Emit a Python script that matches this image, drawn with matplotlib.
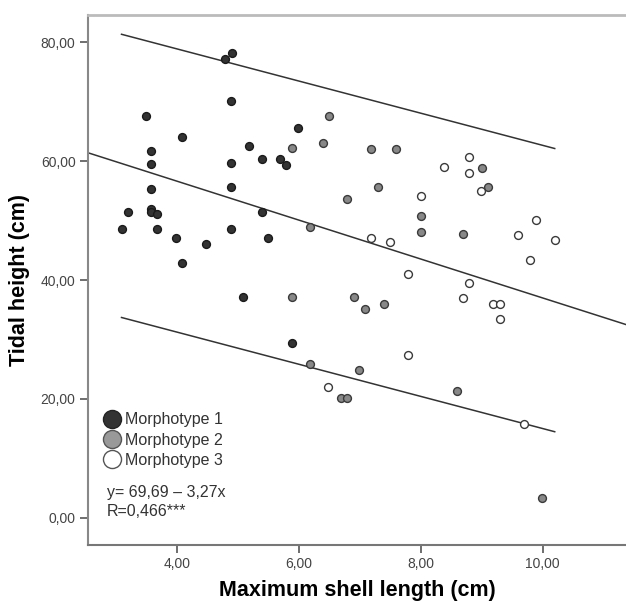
import matplotlib
matplotlib.use("Agg")
import matplotlib.pyplot as plt
from matplotlib.lines import Line2D
from matplotlib.ticker import FuncFormatter

plt.rcParams['font.family'] = ['Liberation Sans', 'DejaVu Sans']

# Morphotype 1 (dark)
m1_x = [4.90, 4.79, 4.89, 3.49, 4.09, 5.99, 5.19, 3.58, 3.58, 4.89, 5.39, 5.69, 5.79,
        3.58, 4.89, 3.19, 3.58, 3.58, 3.68, 5.39, 3.09, 3.68, 4.89, 3.99, 5.49, 4.48,
        4.09, 5.09, 5.89]
m1_y = [78.2, 77.1, 70.1, 67.6, 64.0, 65.5, 62.5, 61.7, 59.5, 59.7, 60.4, 60.3, 59.3,
        55.3, 55.6, 51.5, 51.9, 51.5, 51.1, 51.5, 48.6, 48.6, 48.6, 47.0, 47.0, 46.0,
        42.8, 37.1, 29.4]

# Morphotype 2 (grey)
m2_x = [6.49, 6.39, 5.89, 6.79, 6.19, 5.89, 6.90, 7.09, 6.19, 6.99, 6.69, 6.79,
        7.19, 7.60, 9.00, 9.10, 7.30, 8.00, 8.00, 8.70, 7.39, 8.59, 9.99]
m2_y = [67.6, 63.1, 62.2, 53.6, 48.9, 37.2, 37.2, 35.1, 25.9, 24.9, 20.1, 20.1,
        62.0, 62.0, 58.8, 55.6, 55.6, 50.8, 48.1, 47.8, 36.0, 21.4, 3.4]

# Morphotype 3 (white)
m3_x = [6.48, 8.80, 8.39, 8.80, 8.99, 8.00, 7.19, 7.49, 9.90, 9.60, 10.20, 9.80,
        7.79, 8.80, 8.70, 9.19, 9.30, 9.30, 7.79, 9.70]
m3_y = [22.0, 60.6, 59.0, 58.0, 55.0, 54.1, 47.0, 46.4, 50.1, 47.6, 46.7, 43.3,
        41.0, 39.5, 37.0, 36.0, 36.0, 33.4, 27.4, 15.8]

# fitted line y = a + b x, and the two outer lines (end points)
fit_a, fit_b = 69.69, -3.27
upper_x, upper_y = [3.09, 10.2], [81.3, 62.1]
lower_x, lower_y = [3.09, 10.2], [33.7, 14.5]

xlim = (2.54, 11.37)
ylim = (-4.54, 84.54)
xticks = [4, 6, 8, 10]
yticks = [0, 20, 40, 60, 80]

fig = plt.figure(figsize=(6.26, 6.01), dpi=100)
ax = fig.add_axes([88/626, 56/601, 538/626, 530/601])

ax.plot(upper_x, upper_y, color='#333333', lw=1.1)
ax.plot(lower_x, lower_y, color='#333333', lw=1.1)
ax.plot(xlim, [fit_a + fit_b*x for x in xlim], color='#333333', lw=1.1)

ax.scatter(m1_x, m1_y, s=32, c='#333333', edgecolors='#1a1a1a', linewidths=1.0, zorder=3)
ax.scatter(m2_x, m2_y, s=32, c='#888888', edgecolors='#3a3a3a', linewidths=1.0, zorder=3)
ax.scatter(m3_x, m3_y, s=32, c='white', edgecolors='#3a3a3a', linewidths=1.0, zorder=3)

ax.set_xlim(*xlim)
ax.set_ylim(*ylim)
ax.set_xticks(xticks)
ax.set_yticks(yticks)
fmt = FuncFormatter(lambda v, p: f"{v:.2f}".replace('.', ','))
ax.xaxis.set_major_formatter(fmt)
ax.yaxis.set_major_formatter(fmt)
ax.tick_params(direction='out', length=6, width=1.2, color='#555555',
               labelcolor='#444444', labelsize=10, pad=3)

ax.spines['right'].set_visible(False)
ax.spines['top'].set_color('#bbbbbb')
ax.spines['top'].set_linewidth(2)
ax.spines['left'].set_color('#888888')
ax.spines['left'].set_linewidth(1.5)
ax.spines['bottom'].set_color('#777777')
ax.spines['bottom'].set_linewidth(1.5)

ax.set_xlabel('Maximum shell length (cm)', fontsize=15.5, fontweight='bold', labelpad=6)
ax.set_ylabel('Tidal height (cm)', fontsize=15.5, fontweight='bold', labelpad=8)

handles = [
    Line2D([], [], ls='none', marker='o', ms=13, mfc='#333333', mec='#222222', mew=1),
    Line2D([], [], ls='none', marker='o', ms=13, mfc='#999999', mec='#555555', mew=1),
    Line2D([], [], ls='none', marker='o', ms=13, mfc='white', mec='#555555', mew=1),
]
ax.legend(handles, ['Morphotype 1', 'Morphotype 2', 'Morphotype 3'],
          loc='center left', bbox_to_anchor=(0.0297, 0.198), frameon=False,
          fontsize=11.5, borderpad=0, borderaxespad=0, handlelength=1.0,
          handletextpad=0.3, labelspacing=0.32, labelcolor='#333333')

ax.text(0.0353, 0.081, 'y= 69,69 \u2013 3,27x\nR=0,466***', transform=ax.transAxes,
        fontsize=11.5, color='#333333', va='center', ha='left', linespacing=1.3)

fig.savefig('out.png', dpi=100)
